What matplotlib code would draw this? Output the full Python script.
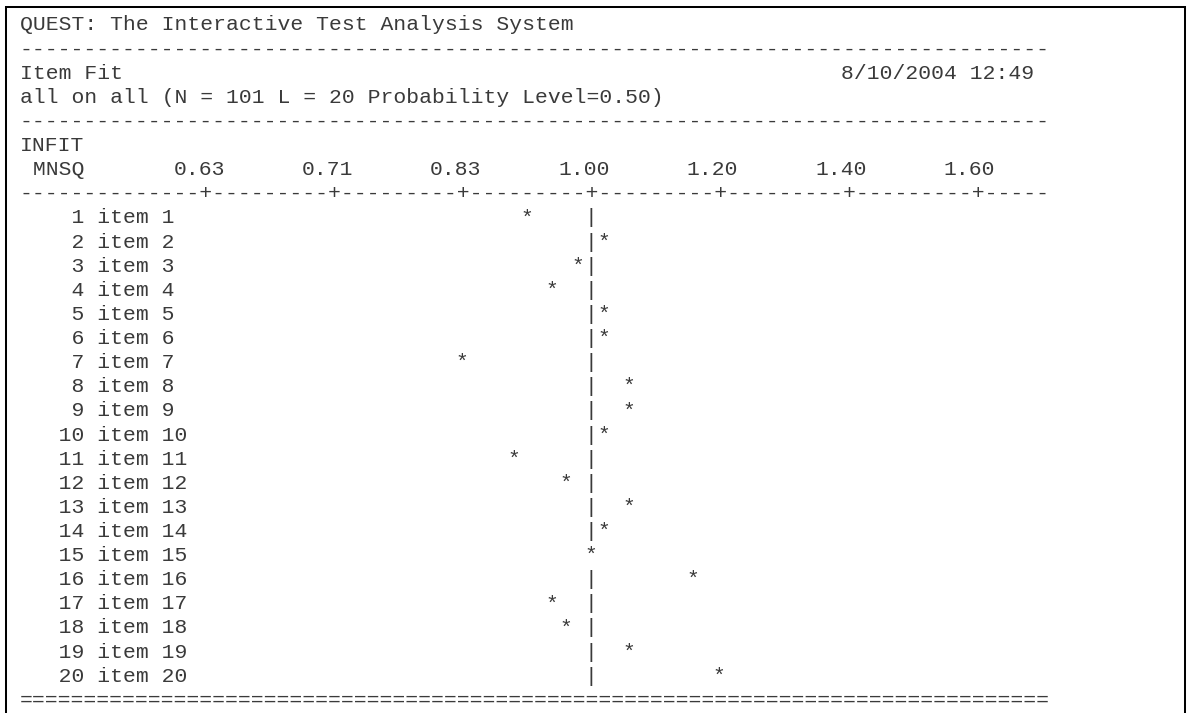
import numpy as np
import matplotlib
matplotlib.use('Agg')
import matplotlib.pyplot as plt
import matplotlib.patches as patches
from matplotlib.transforms import offset_copy

# QUEST item fit output (INFIT MNSQ)
title = 'QUEST: The Interactive Test Analysis System'
report = 'Item Fit'
stamp = '8/10/2004 12:49'
subtitle = 'all on all (N = 101 L = 20 Probability Level=0.50)'
item_ids = list(range(1, 21))
item_names = ['item %d' % i for i in item_ids]
infit_mnsq = [0.909, 1.02, 0.980, 0.943, 1.02, 1.02, 0.833, 1.06, 1.06, 1.02,
              0.893, 0.962, 1.06, 1.02, 1.00, 1.16, 0.943, 0.962, 1.06, 1.20]
tick_vals = [0.625, 0.714, 0.833, 1.00, 1.20, 1.40, 1.60]
tick_labels = ['0.63', '0.71', '0.83', '1.00', '1.20', '1.40', '1.60']

W, H = 1194, 713
cw = 12.83          # char width px
x0 = 19.8           # left edge of column 0
base0 = 30.5        # baseline of first line
lh = 24.12          # line height px
axis_col = 44       # column of 1.00
fsize = cw / 0.6001 * 72 / 100
ink = '#3a3a3a'


# 1.00 in the middle, 1/x on the left side, 0.02 per character
def fwd(x):
    x = np.asarray(x, float)
    xs = np.maximum(x, 1e-6)
    return np.where(x >= 1, (x - 1) / 0.02, -(1 / xs - 1) / 0.02)


def inv(k):
    k = np.asarray(k, float)
    return np.where(k >= 0, 1 + 0.02 * k, 1 / (1 - 0.02 * np.minimum(k, 0)))


fig = plt.figure(figsize=(W / 100, H / 100), dpi=100)
fig.patch.set_facecolor('white')

# plain text layer, x in columns, y in lines
ax = fig.add_axes([0, 0, 1, 1])
ax.set_xlim(-x0 / cw, (W - x0) / cw)
ax.set_ylim((H - base0) / lh, -base0 / lh)
ax.axis('off')

# chart layer, x in MNSQ
axc = fig.add_axes([0, 0, 1, 1])
axc.set_xscale('function', functions=(fwd, inv))
axc.set_xlim(float(inv(-x0 / cw - axis_col - 0.5)), float(inv((W - x0) / cw - axis_col - 0.5)))
axc.set_ylim(ax.get_ylim())
axc.axis('off')

font = dict(family=['Liberation Mono', 'DejaVu Sans Mono'], fontsize=fsize, color=ink, va='baseline')


def line(row, s, col=0):
    ax.text(col, row, s, ha='left', **font)


ruler = ['-'] * 80
for t in tick_vals:
    ruler[axis_col + int(round(float(fwd(t))))] = '+'

line(0, title)
line(1, '-' * 80)
line(2, report)
line(2, stamp, col=64)
line(3, subtitle)
line(4, '-' * 80)
line(5, 'INFIT')
line(6, ' MNSQ')
line(7, ''.join(ruler))

half_left = offset_copy(axc.transData, fig=fig, x=-cw / 2, y=0, units='dots')
for t, lab in zip(tick_vals, tick_labels):
    axc.text(t, 6, lab, ha='center', transform=half_left, **font)

for n, (i, name, v) in enumerate(zip(item_ids, item_names, infit_mnsq)):
    row = 8 + n
    line(row, '%5d %s' % (i, name))
    if abs(float(fwd(v))) > 0.5:
        axc.text(1.0, row, '|', ha='center', **font)
    axc.text(v, row, '*', ha='center', **font)

line(28, '=' * 80)

frame = patches.Rectangle((6 / W, -0.1), (1185 - 6) / W, 1 - 7.3 / H + 0.1,
                          transform=fig.transFigure, fill=False, lw=1.45, ec='black')
fig.add_artist(frame)

plt.savefig('out.png', dpi=100)
